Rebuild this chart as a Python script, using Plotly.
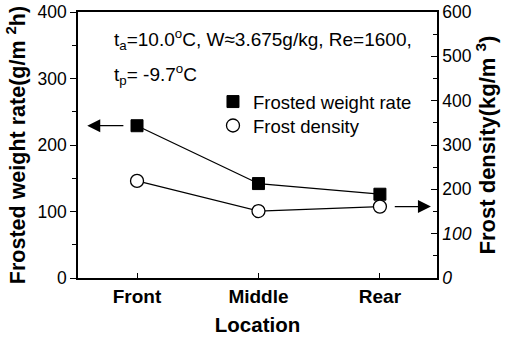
import plotly.graph_objects as go

locations = ["Front", "Middle", "Rear"]
weight_rate = [229, 142, 126]      # g/(m^2 h)
frost_density = [219, 151, 161]    # kg/m^3

left_ticks = [0, 100, 200, 300, 400]
right_ticks = [0, 100, 200, 300, 400, 500, 600]
right_ticktext = ["<i>0</i>", "<i>100</i>", "200", "300", "400", "500", "600"]

FONT = "Liberation Sans, Arial, sans-serif"
x_idx = list(range(len(locations)))

sq_marker = dict(symbol="square", size=12, color="black", line=dict(color="black", width=1))
ci_marker = dict(symbol="circle", size=13, color="white", line=dict(color="black", width=1.3))

fig = go.Figure()
fig.add_trace(go.Scatter(
    x=x_idx, y=weight_rate, name="Frosted weight rate", mode="lines+markers", showlegend=False,
    line=dict(color="black", width=1.3), marker=sq_marker,
))
fig.add_trace(go.Scatter(
    x=x_idx, y=frost_density, name="Frost density", mode="lines+markers", yaxis="y2", showlegend=False,
    line=dict(color="black", width=1.3), marker=ci_marker,
))
# legend entries (markers only), one legend box per entry
fig.add_trace(go.Scatter(x=[None], y=[None], name="Frosted weight rate", mode="markers",
                         marker=sq_marker, legend="legend"))
fig.add_trace(go.Scatter(x=[None], y=[None], name="Frost density", mode="markers",
                         marker=ci_marker, legend="legend2"))

legend_style = dict(xanchor="left", yanchor="top", bgcolor="rgba(0,0,0,0)",
                    font=dict(size=18.5, color="black"), itemwidth=30)

fig.update_layout(
    width=516, height=341,
    margin=dict(l=78, r=79, t=12, b=63, autoexpand=False),
    paper_bgcolor="white", plot_bgcolor="white",
    font=dict(family=FONT, color="black", size=16),
    showlegend=True,
    legend=dict(x=0.376, y=0.733, **legend_style),
    legend2=dict(x=0.376, y=0.643, **legend_style),
    xaxis=dict(
        range=[-0.486, 2.47], tickvals=x_idx, ticktext=[f"<b>{s}</b>" for s in locations],
        showline=True, linecolor="black", linewidth=1.5, mirror=True, automargin=False,
        ticks="inside", ticklen=5, tickcolor="black", showgrid=False, zeroline=False,
        tickfont=dict(size=19, color="black"),
        title=dict(text="<b>Location</b>", font=dict(size=20.5, color="black"), standoff=12),
    ),
    yaxis=dict(
        range=[0, 400], tickvals=left_ticks, showline=True, linecolor="black", linewidth=1.5,
        ticks="outside", ticklen=6, tickcolor="black", showgrid=False, zeroline=False,
        automargin=False, tickfont=dict(size=17.5, color="black"),
        minor=dict(dtick=50, ticks="outside", ticklen=4, tickcolor="black"),
        title=dict(text="<b>Frosted weight rate(g/m <sup>2</sup>h)</b>",
                   font=dict(size=21.5, color="black"), standoff=6),
    ),
    yaxis2=dict(
        range=[0, 600], tickvals=right_ticks, ticktext=right_ticktext,
        overlaying="y", side="right", showline=True, linecolor="black", linewidth=1.5,
        ticks="inside", ticklen=6, tickcolor="black", showgrid=False, zeroline=False,
        automargin=False, tickfont=dict(size=17.5, color="black"),
        minor=dict(dtick=50, ticks="inside", ticklen=4, tickcolor="black"),
        title=dict(text="<b>Frost density(kg/m <sup>3</sup>)</b>",
                   font=dict(size=22, color="black"), standoff=9),
    ),
)

# condition text
fig.add_annotation(xref="paper", yref="paper", x=0.095, y=0.895, xanchor="left", yanchor="middle",
                   showarrow=False, font=dict(size=19, color="black"),
                   text="t<sub>a</sub>=10.0<sup>o</sup>C, W≈3.675g/kg, Re=1600,")
fig.add_annotation(xref="paper", yref="paper", x=0.095, y=0.765, xanchor="left", yanchor="middle",
                   showarrow=False, font=dict(size=19, color="black"),
                   text="t<sub>p</sub>= -9.7<sup>o</sup>C")

# arrows pointing each series to its own axis
fig.add_annotation(x=-0.41, y=weight_rate[0], xref="x", yref="y",
                   ax=-0.10, ay=weight_rate[0], axref="x", ayref="y",
                   showarrow=True, arrowhead=2, arrowsize=2, arrowwidth=1.3, arrowcolor="black", text="")
fig.add_annotation(x=2.42, y=frost_density[2], xref="x", yref="y2",
                   ax=2.11, ay=frost_density[2], axref="x", ayref="y2",
                   showarrow=True, arrowhead=2, arrowsize=2, arrowwidth=1.3, arrowcolor="black", text="")

fig.write_html("out.html")
